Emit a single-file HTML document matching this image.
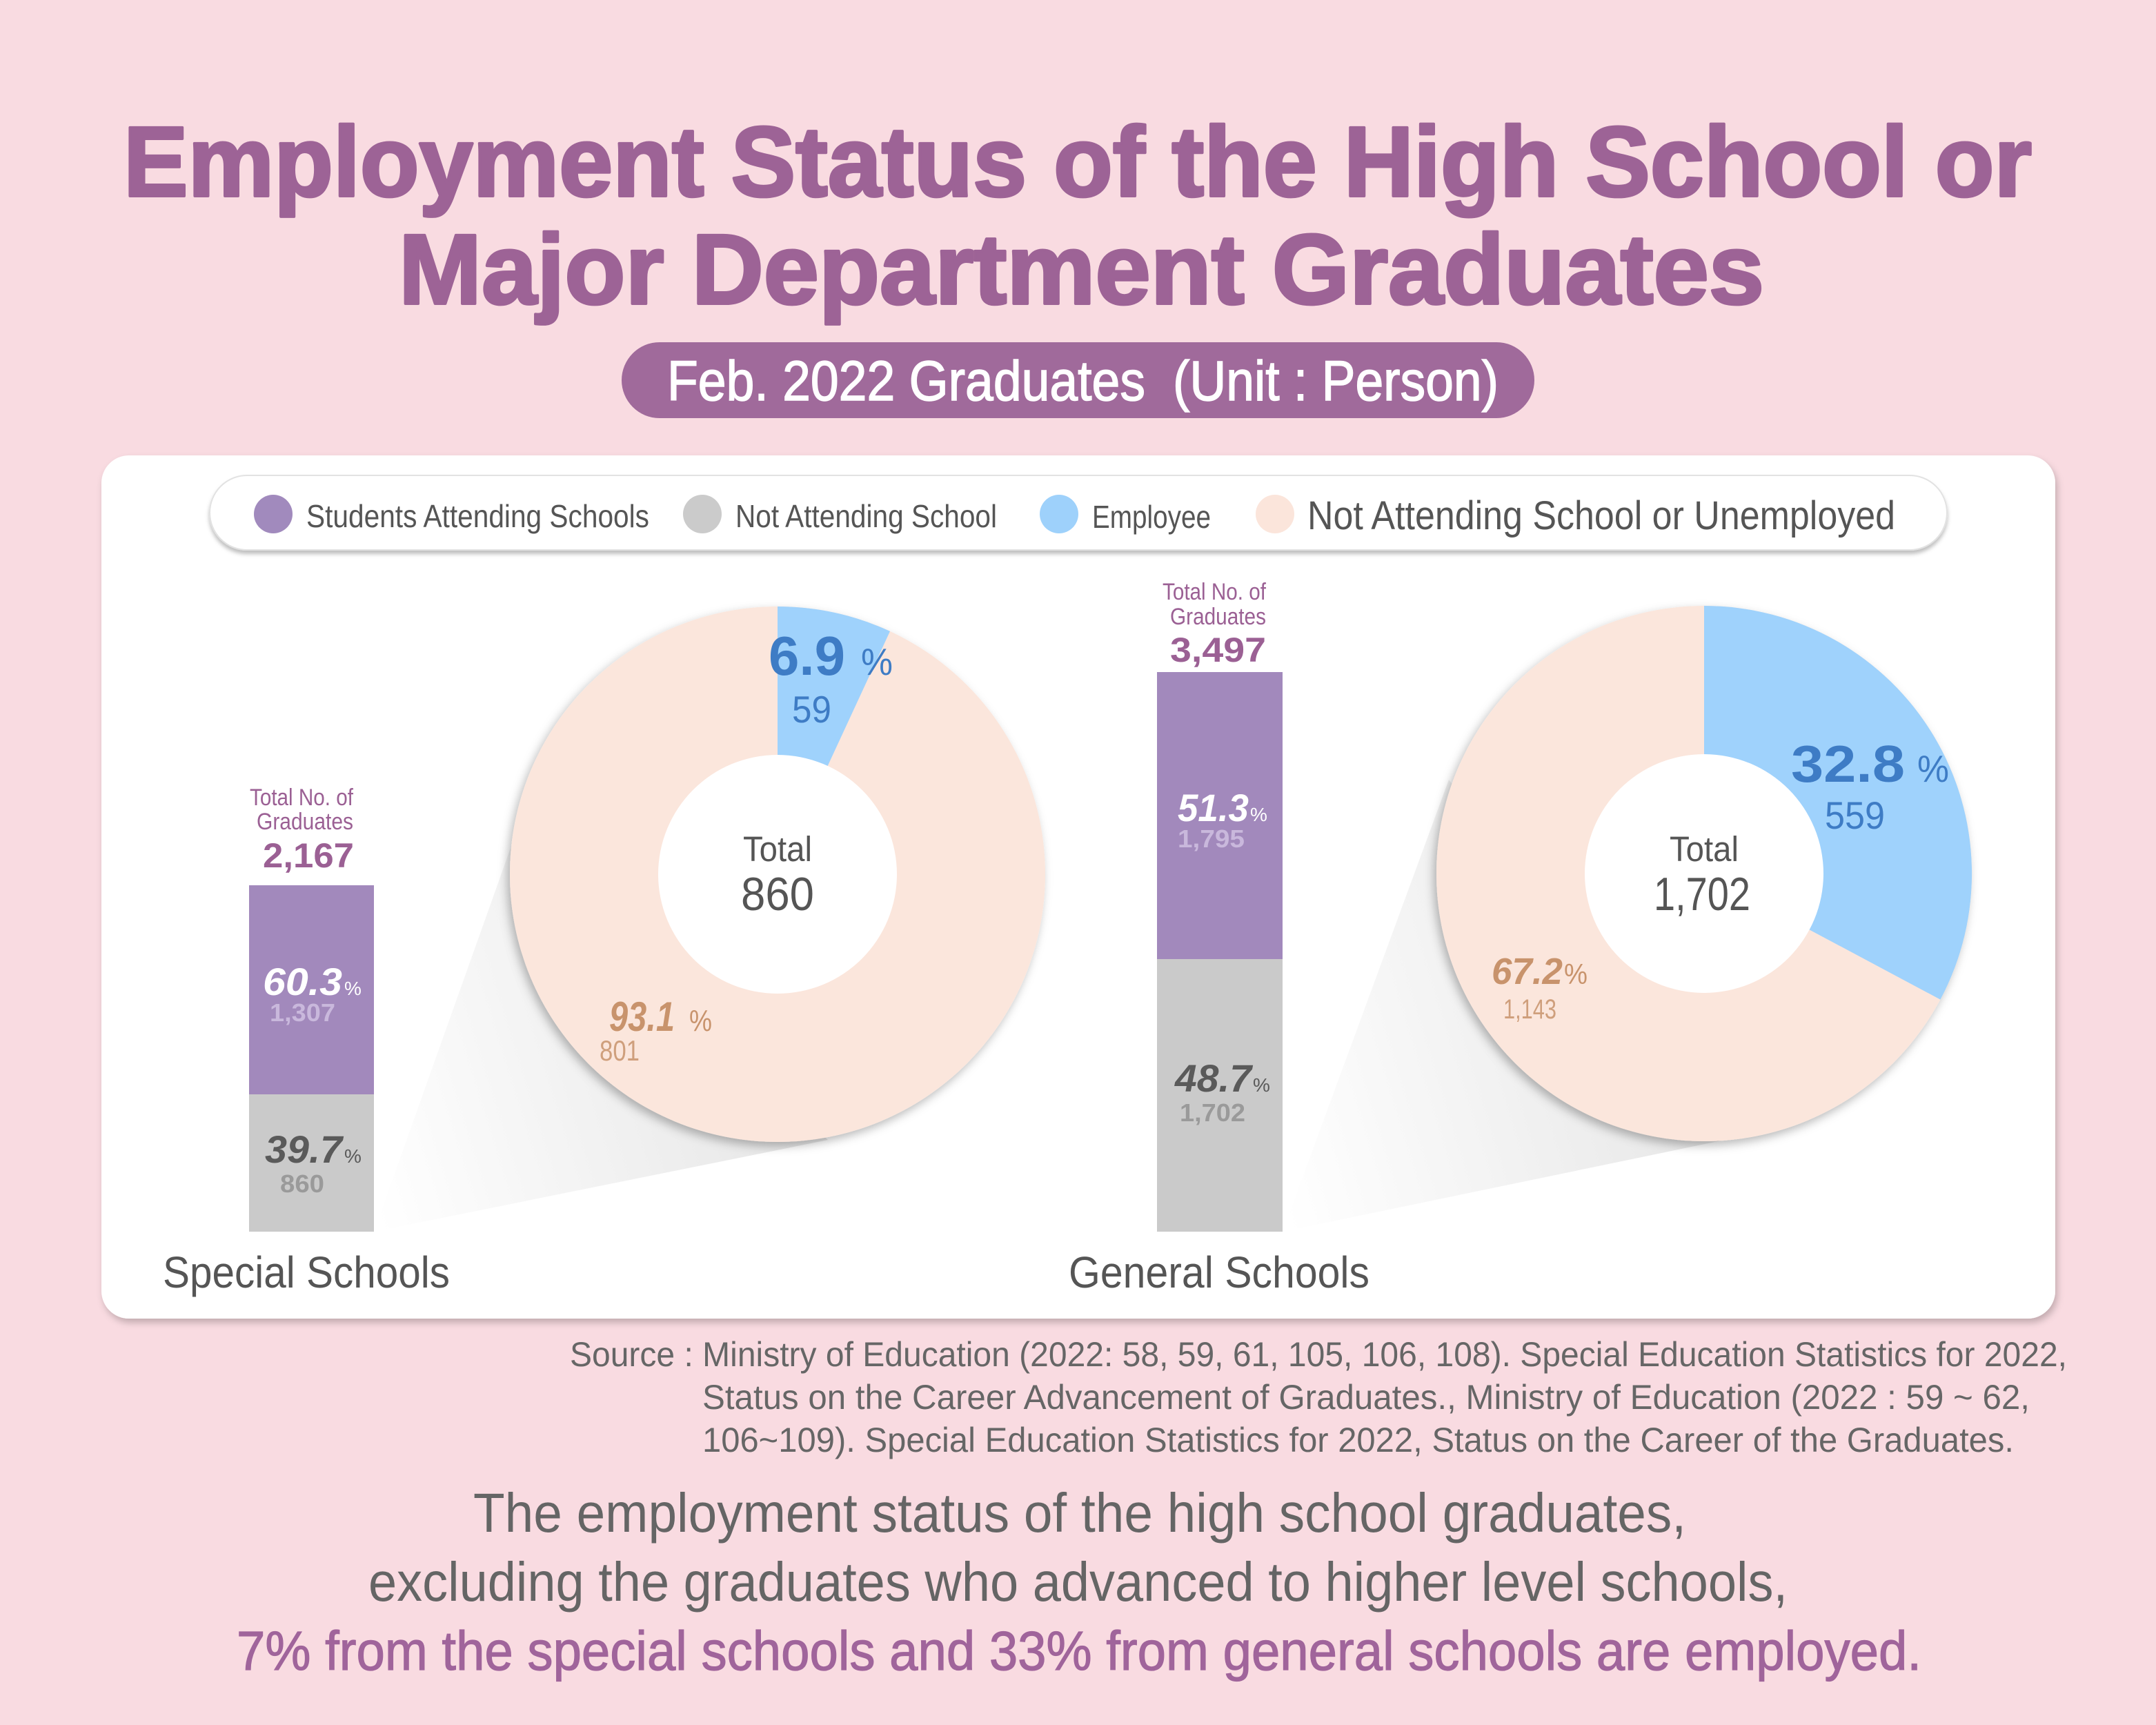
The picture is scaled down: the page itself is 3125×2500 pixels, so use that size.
<!DOCTYPE html>
<html><head><meta charset="utf-8">
<style>
html,body{margin:0;padding:0;background:#f9dbe1;}
svg{display:block;}
text{font-family:"Liberation Sans",sans-serif;}
</style></head>
<body>
<svg width="3125" height="2500" viewBox="0 0 3125 2500" xmlns="http://www.w3.org/2000/svg">
<defs>
  <filter id="cardsh" x="-5%" y="-5%" width="110%" height="115%">
    <feDropShadow dx="3" dy="6" stdDeviation="5" flood-color="#000" flood-opacity="0.22"/>
  </filter>
  <filter id="legsh" x="-5%" y="-20%" width="110%" height="150%">
    <feDropShadow dx="0" dy="5" stdDeviation="3" flood-color="#000" flood-opacity="0.25"/>
  </filter>
  <filter id="donsh" x="-10%" y="-10%" width="120%" height="125%">
    <feDropShadow dx="-4" dy="6" stdDeviation="7" flood-color="#000" flood-opacity="0.28"/>
  </filter>
  <linearGradient id="wg1" gradientUnits="userSpaceOnUse" x1="542" y1="1750" x2="1150" y2="1560">
    <stop offset="0" stop-color="#ffffff"/>
    <stop offset="1" stop-color="#e6e6e6"/>
  </linearGradient>
  <linearGradient id="wg2" gradientUnits="userSpaceOnUse" x1="1860" y1="1750" x2="2480" y2="1560">
    <stop offset="0" stop-color="#ffffff"/>
    <stop offset="1" stop-color="#e6e6e6"/>
  </linearGradient>
</defs>

<rect x="0" y="0" width="3125" height="2500" fill="#f9dbe1"/>

<!-- Title -->
<text x="179" y="284" font-size="144" font-weight="bold" fill="#9d6396" stroke="#9d6396" stroke-width="4" stroke-linejoin="round" textLength="2766" lengthAdjust="spacingAndGlyphs">Employment Status of the High School or</text>
<text x="578" y="440" font-size="144" font-weight="bold" fill="#9d6396" stroke="#9d6396" stroke-width="4" stroke-linejoin="round" textLength="1979" lengthAdjust="spacingAndGlyphs">Major Department Graduates</text>

<!-- Subtitle pill -->
<rect x="901" y="496" width="1323" height="110" rx="55" fill="#a06a9b"/>
<text x="967" y="580" font-size="82" fill="#ffffff" stroke="#ffffff" stroke-width="1.5" textLength="693" lengthAdjust="spacingAndGlyphs">Feb. 2022 Graduates</text>
<text x="1700" y="580" font-size="82" fill="#ffffff" stroke="#ffffff" stroke-width="1.5" textLength="472" lengthAdjust="spacingAndGlyphs">(Unit : Person)</text>

<!-- Card -->
<rect x="147" y="660" width="2832" height="1251" rx="40" fill="#ffffff" filter="url(#cardsh)"/>

<!-- Legend -->
<rect x="304" y="689" width="2518" height="108" rx="54" fill="#ffffff" stroke="#e2e2e2" stroke-width="2" filter="url(#legsh)"/>
<circle cx="396" cy="745" r="28" fill="#a18abd"/>
<text x="444" y="764" font-size="46" fill="#555" textLength="497" lengthAdjust="spacingAndGlyphs">Students Attending Schools</text>
<circle cx="1018" cy="745" r="28" fill="#cbcbcb"/>
<text x="1066" y="764" font-size="46" fill="#555" textLength="379" lengthAdjust="spacingAndGlyphs">Not Attending School</text>
<circle cx="1535" cy="745" r="28" fill="#9ed1fb"/>
<text x="1583" y="765" font-size="46" fill="#555" textLength="172" lengthAdjust="spacingAndGlyphs">Employee</text>
<circle cx="1848" cy="745" r="28" fill="#fbe5db"/>
<text x="1895" y="767" font-size="58" fill="#555" textLength="852" lengthAdjust="spacingAndGlyphs">Not Attending School or Unemployed</text>

<!-- Wedges -->
<polygon points="542,1785 745,1215 1200,1652" fill="url(#wg1)"/>
<polygon points="1859,1785 2100,1130 2500,1652" fill="url(#wg2)"/>

<!-- Special bar -->
<rect x="361" y="1283" width="181" height="303" fill="#a289bc"/>
<rect x="361" y="1586" width="181" height="199" fill="#cacaca"/>
<text x="362" y="1167" font-size="34" fill="#9b6094" textLength="150" lengthAdjust="spacingAndGlyphs">Total No. of</text>
<text x="372" y="1202" font-size="34" fill="#9b6094" textLength="140" lengthAdjust="spacingAndGlyphs">Graduates</text>
<text x="381" y="1257" font-size="50" font-weight="bold" fill="#9b6094" textLength="132" lengthAdjust="spacingAndGlyphs">2,167</text>
<text x="381" y="1442" font-size="56" font-weight="bold" font-style="italic" fill="#ffffff" textLength="115" lengthAdjust="spacingAndGlyphs">60.3</text>
<text x="499" y="1442" font-size="28" fill="#ffffff">%</text>
<text x="391" y="1480" font-size="36" font-weight="bold" fill="#c9b8dc" textLength="95" lengthAdjust="spacingAndGlyphs">1,307</text>
<text x="384" y="1685" font-size="56" font-weight="bold" font-style="italic" fill="#5a5a5a" textLength="112" lengthAdjust="spacingAndGlyphs">39.7</text>
<text x="499" y="1685" font-size="28" fill="#5a5a5a">%</text>
<text x="406" y="1728" font-size="36" font-weight="bold" fill="#9a9a9a" textLength="64" lengthAdjust="spacingAndGlyphs">860</text>

<!-- General bar -->
<rect x="1677" y="974" width="182" height="416" fill="#a289bc"/>
<rect x="1677" y="1390" width="182" height="395" fill="#cacaca"/>
<text x="1685" y="869" font-size="34" fill="#9b6094" textLength="150" lengthAdjust="spacingAndGlyphs">Total No. of</text>
<text x="1696" y="905" font-size="34" fill="#9b6094" textLength="139" lengthAdjust="spacingAndGlyphs">Graduates</text>
<text x="1696" y="959" font-size="50" font-weight="bold" fill="#9b6094" textLength="139" lengthAdjust="spacingAndGlyphs">3,497</text>
<text x="1707" y="1190" font-size="56" font-weight="bold" font-style="italic" fill="#ffffff" textLength="103" lengthAdjust="spacingAndGlyphs">51.3</text>
<text x="1812" y="1190" font-size="28" fill="#ffffff">%</text>
<text x="1707" y="1228" font-size="36" font-weight="bold" fill="#c9b8dc" textLength="97" lengthAdjust="spacingAndGlyphs">1,795</text>
<text x="1703" y="1582" font-size="56" font-weight="bold" font-style="italic" fill="#5a5a5a" textLength="111" lengthAdjust="spacingAndGlyphs">48.7</text>
<text x="1816" y="1582" font-size="28" fill="#5a5a5a">%</text>
<text x="1710" y="1625" font-size="36" font-weight="bold" fill="#9a9a9a" textLength="95" lengthAdjust="spacingAndGlyphs">1,702</text>

<!-- Donut 1 -->
<g filter="url(#donsh)">
  <circle cx="1127" cy="1267" r="388" fill="#fbe6dc"/>
</g>
<path d="M1127,1267 L1127,879 A388,388 0 0,1 1290,914.9 Z" fill="#9fd2fc"/>
<circle cx="1127" cy="1267" r="173" fill="#ffffff"/>
<text x="1114" y="978" font-size="80" font-weight="bold" fill="#3e7cc5" textLength="111" lengthAdjust="spacingAndGlyphs">6.9</text>
<text x="1248" y="978" font-size="55" fill="#3e7cc5" textLength="46" lengthAdjust="spacingAndGlyphs">%</text>
<text x="1148" y="1047" font-size="55" fill="#3e7cc5" textLength="57" lengthAdjust="spacingAndGlyphs">59</text>
<text x="1127" y="1248" font-size="51" fill="#555" text-anchor="middle" textLength="100" lengthAdjust="spacingAndGlyphs">Total</text>
<text x="1127" y="1319" font-size="68" fill="#555" text-anchor="middle" textLength="106" lengthAdjust="spacingAndGlyphs">860</text>
<text x="883" y="1494" font-size="60" font-weight="bold" font-style="italic" fill="#c8936c" textLength="95" lengthAdjust="spacingAndGlyphs">93.1</text>
<text x="999" y="1494" font-size="44" fill="#c8936c" textLength="33" lengthAdjust="spacingAndGlyphs">%</text>
<text x="869" y="1537" font-size="42" fill="#cf9f7c" textLength="58" lengthAdjust="spacingAndGlyphs">801</text>

<!-- Donut 2 -->
<g filter="url(#donsh)">
  <circle cx="2470" cy="1266" r="388" fill="#fbe6dc"/>
</g>
<path d="M2470,1266 L2470,878 A388,388 0 0,1 2812.4,1448.6 Z" fill="#9fd2fc"/>
<circle cx="2470" cy="1266" r="173" fill="#ffffff"/>
<text x="2596" y="1133" font-size="75" font-weight="bold" fill="#3e7cc5" textLength="165" lengthAdjust="spacingAndGlyphs">32.8</text>
<text x="2779" y="1133" font-size="55" fill="#3e7cc5" textLength="46" lengthAdjust="spacingAndGlyphs">%</text>
<text x="2645" y="1201" font-size="56" fill="#3e7cc5" textLength="87" lengthAdjust="spacingAndGlyphs">559</text>
<text x="2470" y="1248" font-size="51" fill="#555" text-anchor="middle" textLength="100" lengthAdjust="spacingAndGlyphs">Total</text>
<text x="2467" y="1319" font-size="68" fill="#555" text-anchor="middle" textLength="140" lengthAdjust="spacingAndGlyphs">1,702</text>
<text x="2162" y="1426" font-size="54" font-weight="bold" font-style="italic" fill="#c8936c" textLength="103" lengthAdjust="spacingAndGlyphs">67.2</text>
<text x="2267" y="1426" font-size="42" fill="#c8936c" textLength="34" lengthAdjust="spacingAndGlyphs">%</text>
<text x="2179" y="1476" font-size="40" fill="#cf9f7c" textLength="77" lengthAdjust="spacingAndGlyphs">1,143</text>

<!-- Group labels -->
<text x="236" y="1866" font-size="64" fill="#555" textLength="416" lengthAdjust="spacingAndGlyphs">Special Schools</text>
<text x="1549" y="1866" font-size="64" fill="#555" textLength="436" lengthAdjust="spacingAndGlyphs">General Schools</text>

<!-- Source -->
<text x="826" y="1980" font-size="50" fill="#666" textLength="2170" lengthAdjust="spacingAndGlyphs">Source : Ministry of Education (2022: 58, 59, 61, 105, 106, 108). Special Education Statistics for 2022,</text>
<text x="1018" y="2042" font-size="50" fill="#666" textLength="1924" lengthAdjust="spacingAndGlyphs">Status on the Career Advancement of Graduates., Ministry of Education (2022 : 59 ~ 62,</text>
<text x="1018" y="2104" font-size="50" fill="#666" textLength="1901" lengthAdjust="spacingAndGlyphs">106~109). Special Education Statistics for 2022, Status on the Career of the Graduates.</text>

<!-- Bottom summary -->
<text x="686" y="2220" font-size="80" fill="#656565" textLength="1758" lengthAdjust="spacingAndGlyphs">The employment status of the high school graduates,</text>
<text x="534" y="2320" font-size="80" fill="#656565" textLength="2057" lengthAdjust="spacingAndGlyphs">excluding the graduates who advanced to higher level schools,</text>
<text x="343" y="2420" font-size="80" fill="#a0649b" stroke="#a0649b" stroke-width="1.2" textLength="2442" lengthAdjust="spacingAndGlyphs">7% from the special schools and 33% from general schools are employed.</text>
</svg>
</body></html>
